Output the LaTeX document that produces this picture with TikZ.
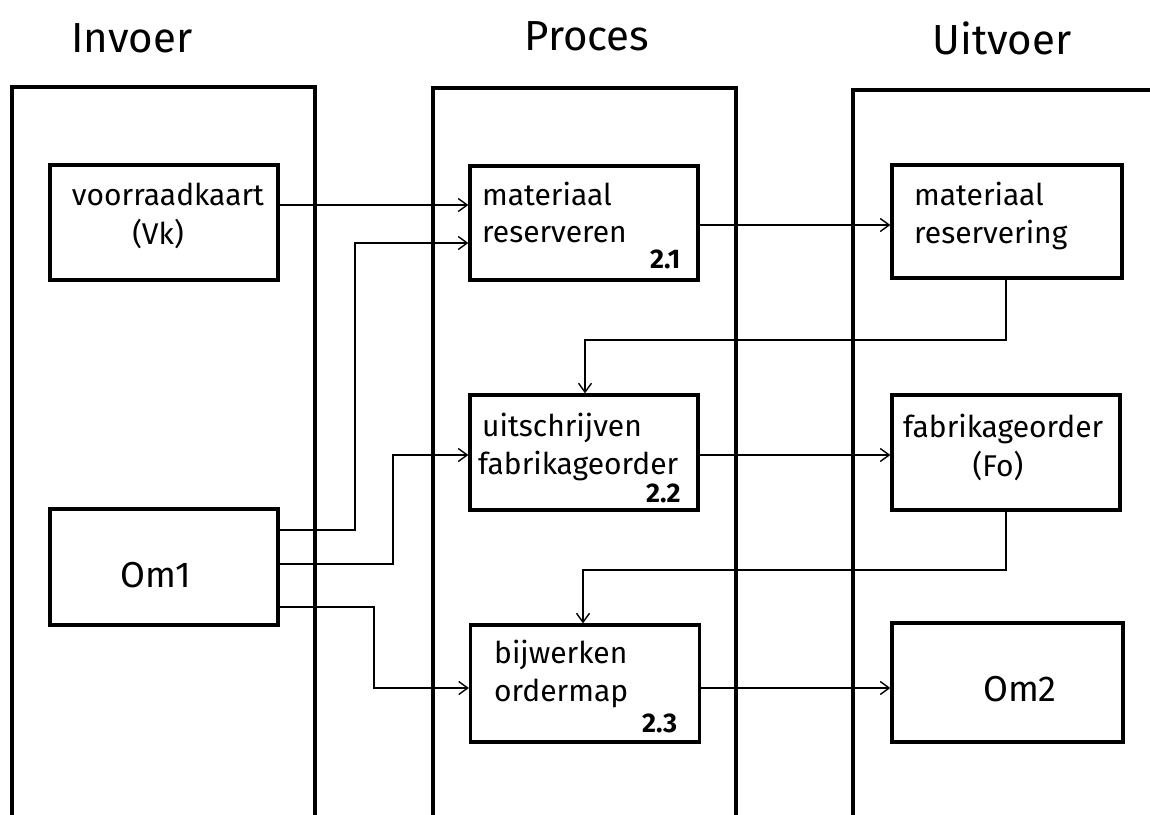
\documentclass[tikz,border=0pt]{standalone}
\usepackage{fontspec}
\setmainfont{Fira Sans}
\usetikzlibrary{arrows.meta}

\begin{document}
\begin{tikzpicture}[x=1pt,y=-1pt,
  panel/.style={line width=3.2pt,line cap=round},
  box/.style={draw,line width=3.2pt,rectangle,inner sep=0pt},
  flow/.style={line width=1.4pt,-{Straight Barb[length=9pt,width=13pt,line width=1.4pt]}},
  head/.style={font=\fontsize{42}{48}\selectfont},
  txt/.style={anchor=base west,inner sep=0pt,font=\fontsize{30}{36}\selectfont},
  ctxt/.style={anchor=base,inner sep=0pt,font=\fontsize{30}{36}\selectfont},
  big/.style={anchor=base,inner sep=0pt,font=\fontsize{36}{42}\selectfont},
  num/.style={anchor=base west,inner sep=0pt,font=\fontsize{27}{32}\selectfont\bfseries}
]
\useasboundingbox[fill=white] (0,0) rectangle (1150,814);

% column headings
\node[head] (hin)  at (132,38) {Invoer};
\node[head] (hpr)  at (587,36) {Proces};
\node[head] (huit) at (1002,38) {Uitvoer};

% the three columns, open at the bottom
\draw[panel] (12,820) -- (12,87) -- (315,87) -- (315,820);
\draw[panel] (433,820) -- (433,88) -- (736,88) -- (736,820);
\draw[panel] (853,820) -- (853,90) -- (1156,90);

% input column
\node[box,minimum width=228pt,minimum height=115pt] (vk) at (164,222.5) {};
\node[ctxt] (vkt1) at (168,205) {voorraadkaart};
\node[ctxt] (vkt2) at (158,244) {(Vk)};

\node[box,minimum width=228pt,minimum height=116pt] (om1) at (164,567) {};
\node[big] (om1t) at (156,587) {Om1};

% process column
\node[box,minimum width=228pt,minimum height=114pt] (p1) at (584,223) {};
\node[txt] (p1a) at (482,205) {materiaal};
\node[txt] (p1b) at (482,242) {reserveren};
\node[num] (p1n) at (650,268) {2.1};

\node[box,minimum width=228pt,minimum height=115pt] (p2) at (584,452.5) {};
\node[txt] (p2a) at (482,436) {uitschrijven};
\node[txt] (p2b) at (478,474) {fabrikageorder};
\node[num] (p2n) at (646,502) {2.2};

\node[box,minimum width=229pt,minimum height=117pt] (p3) at (585,683.5) {};
\node[txt] (p3a) at (494,663) {bijwerken};
\node[txt] (p3b) at (494,701) {ordermap};
\node[num] (p3n) at (642,732) {2.3};

% output column
\node[box,minimum width=230pt,minimum height=113pt] (u1) at (1007,221.5) {};
\node[txt] (u1a) at (914,205) {materiaal};
\node[txt] (u1b) at (914,243) {reservering};

\node[box,minimum width=228pt,minimum height=115pt] (u2) at (1006,452.5) {};
\node[txt] (u2a) at (903,437) {fabrikageorder};
\node[ctxt] (u2b) at (998,476) {(Fo)};

\node[box,minimum width=231pt,minimum height=119pt] (u3) at (1007.5,682.5) {};
\node[big] (u3t) at (1020,701) {Om2};

% flows
\draw[flow] (vk.east |- 0,205) -- (p1.west |- 0,205);
\draw[flow] (om1.east |- 0,530) -| (355,243) -- (p1.west |- 0,243);
\draw[flow] (om1.east |- 0,564) -| (393,455) -- (p2.west |- 0,455);
\draw[flow] (om1.east |- 0,607) -| (374,688) -- (p3.west |- 0,688);

\draw[flow] (p1.east |- 0,225) -- (u1.west |- 0,225);
\draw[flow] (p2.east |- 0,455) -- (u2.west |- 0,455);
\draw[flow] (p3.east |- 0,688) -- (u3.west |- 0,688);

% feedback from outputs to the next process step
\draw[flow] (u1.south -| 1006,0) -- (1006,340) -| (p2.north -| 585,0);
\draw[flow] (u2.south -| 1006,0) -- (1006,570) -| (p3.north -| 583,0);
\end{tikzpicture}
\end{document}
